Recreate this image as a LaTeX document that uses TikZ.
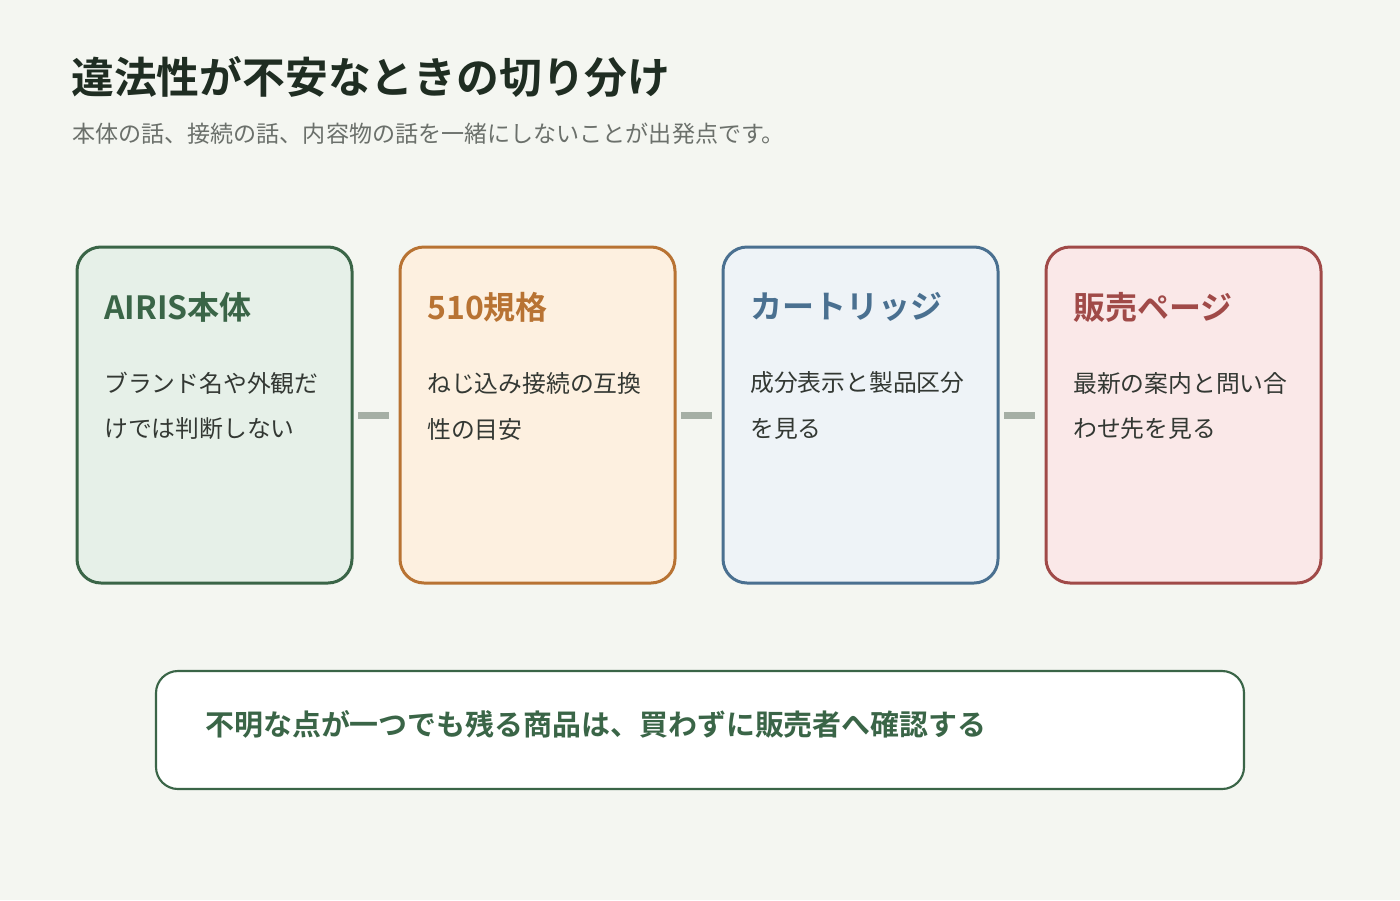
\documentclass[tikz,border=0pt]{standalone}
\usepackage{fontspec}
\usetikzlibrary{calc}
\setmainfont{Noto Sans CJK JP}[BoldFont={Noto Sans CJK JP Bold}]
\definecolor{bg}{HTML}{F4F6F1}
\definecolor{titlec}{HTML}{1F2D22}
\definecolor{subc}{HTML}{6B706B}
\definecolor{bodyc}{HTML}{333833}
\definecolor{gA}{HTML}{3A6547}\definecolor{gAf}{HTML}{E6F0E8}
\definecolor{oB}{HTML}{B87333}\definecolor{oBf}{HTML}{FDF0E0}
\definecolor{bC}{HTML}{4A7090}\definecolor{bCf}{HTML}{EEF3F7}
\definecolor{rD}{HTML}{A04A48}\definecolor{rDf}{HTML}{FAE8E8}
\definecolor{barc}{HTML}{A5AFA5}
\begin{document}
\begin{tikzpicture}[x=0.75pt,y=-0.75pt,
  card/.style={draw=#1,line width=2.25pt,rounded corners=18pt,minimum width=206.25pt,minimum height=252pt,inner sep=0pt},
  ctitle/.style={anchor=west,inner sep=0pt,font=\fontsize{24}{28}\selectfont\bfseries,text=#1},
  cbody/.style={anchor=west,inner sep=0pt,font=\fontsize{17.85}{20}\selectfont,text=bodyc},
  bar/.style={fill=barc,draw=none,minimum width=23.25pt,minimum height=5.25pt,inner sep=0pt}]
\fill[bg] (0,0) rectangle (1400,900);
\useasboundingbox (0,0) rectangle (1400,900);
\node[anchor=west,inner sep=0pt,font=\fontsize{32.1}{36}\selectfont\bfseries,text=titlec] (title) at (71,77) {違法性が不安なときの切り分け};
\node[anchor=west,inner sep=0pt,font=\fontsize{17.3}{20}\selectfont,text=subc] (sub) at (72,134) {本体の話、接続の話、内容物の話を一緒にしないことが出発点です。};
% cards
\node[card=gA,fill=gAf] (c1) at (214.5,415) {};
\node[card=oB,fill=oBf] (c2) at (537.5,415) {};
\node[card=bC,fill=bCf] (c3) at (860.5,415) {};
\node[card=rD,fill=rDf] (c4) at (1183.5,415) {};
% titles
\node[ctitle=gA] (t1) at (104,307) {AIRIS本体};
\node[ctitle=oB] (t2) at (427,307) {510規格};
\node[ctitle=bC] (t3) at (750,307) {カートリッジ};
\node[ctitle=rD] (t4) at (1073,307) {販売ページ};
% bodies
\node[cbody] (b1a) at (104,383) {ブランド名や外観だ};
\node[cbody] (b1b) at (104,429) {けでは判断しない};
\node[cbody] (b2a) at (427,383) {ねじ込み接続の互換};
\node[cbody] (b2b) at (427,429) {性の目安};
\node[cbody] (b3a) at (750,383) {成分表示と製品区分};
\node[cbody] (b3b) at (750,429) {を見る};
\node[cbody] (b4a) at (1073,383) {最新の案内と問い合};
\node[cbody] (b4b) at (1073,429) {わせ先を見る};
% connectors
\node[bar] (k1) at ($(c1.east)!0.5!(c2.west)+(-3,0)$) {};
\node[bar] (k2) at ($(c2.east)!0.5!(c3.west)+(-3,0)$) {};
\node[bar] (k3) at ($(c3.east)!0.5!(c4.west)+(-3,0)$) {};
% bottom
\node[draw=gA,line width=1.6pt,fill=white,rounded corners=16.5pt,minimum width=816pt,minimum height=88.5pt,inner sep=0pt] (note) at (700,730) {};
\node[anchor=west,inner sep=0pt,font=\fontsize{21.7}{24}\selectfont\bfseries,text=gA] (notet) at (205,724) {不明な点が一つでも残る商品は、買わずに販売者へ確認する};
\end{tikzpicture}
\end{document}
